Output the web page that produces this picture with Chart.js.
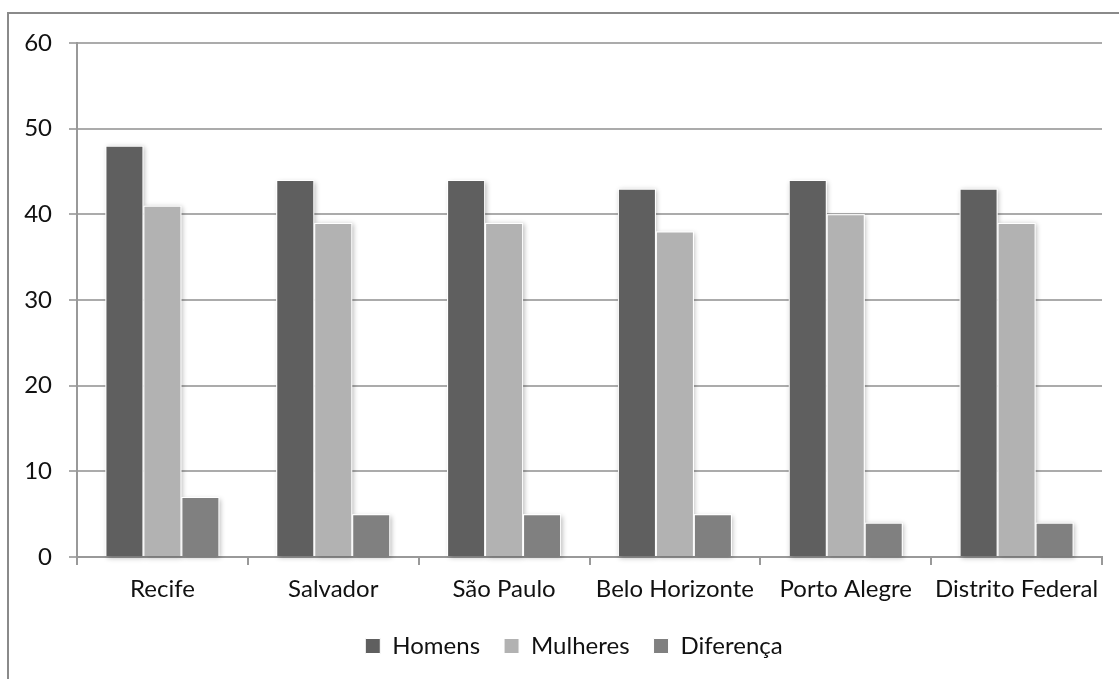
<!DOCTYPE html>
<html>
<head>
<meta charset="utf-8">
<script src="https://cdn.jsdelivr.net/npm/chart.js@4/dist/chart.umd.min.js"></script>
<style>
  html, body { margin: 0; padding: 0; background: #fff; }
  canvas { display: block; }
</style>
</head>
<body>
<canvas id="chart" width="1119" height="679"></canvas>
<script>
// Cities and values per group
const categories = ['Recife', 'Salvador', 'São Paulo', 'Belo Horizonte', 'Porto Alegre', 'Distrito Federal'];
const homens    = [48, 44, 44, 43, 44, 43];
const mulheres  = [41, 39, 39, 38, 40, 39];
const diferenca = [7, 5, 5, 5, 4, 4];
const yTicks    = [0, 10, 20, 30, 40, 50, 60];

const FONT = 'Lato, "Open Sans", sans-serif';

// Frame around the chart (left and top edges)
const framePlugin = {
  id: 'frame',
  beforeDraw(chart) {
    const ctx = chart.ctx;
    ctx.save();
    ctx.fillStyle = '#fff';
    ctx.fillRect(0, 0, chart.width, chart.height);
    ctx.strokeStyle = '#8a8a8a';
    ctx.lineWidth = 2;
    ctx.beginPath();
    ctx.moveTo(8, chart.height);
    ctx.lineTo(8, 13);
    ctx.lineTo(chart.width, 13);
    ctx.stroke();
    ctx.restore();
  }
};

// Soft drop shadow behind each bar
const barShadowPlugin = {
  id: 'barShadow',
  beforeDatasetsDraw(chart) {
    const ctx = chart.ctx;
    ctx.save();
    ctx.shadowColor = 'rgba(0,0,0,0.28)';
    ctx.shadowBlur = 5;
    ctx.shadowOffsetX = 1.5;
    ctx.shadowOffsetY = 1.5;
    ctx.fillStyle = '#fff';
    chart.data.datasets.forEach((ds, i) => {
      const meta = chart.getDatasetMeta(i);
      meta.data.forEach(bar => {
        const p = bar.getProps(['x', 'y', 'base', 'width'], true);
        ctx.fillRect(p.x - p.width / 2, p.y, p.width, p.base - p.y);
      });
    });
    ctx.restore();
  }
};

// Centre the legend row under the whole frame rather than the padded box
const legendShiftPlugin = {
  id: 'legendShift',
  afterLayout(chart) {
    const lg = chart.legend;
    if (lg) { lg.left += 23; lg.right += 23; }
  }
};

new Chart(document.getElementById('chart'), {
  type: 'bar',
  data: {
    labels: categories,
    datasets: [
      { label: 'Homens',    data: homens,    backgroundColor: '#5f5f5f' },
      { label: 'Mulheres',  data: mulheres,  backgroundColor: '#b2b2b2' },
      { label: 'Diferença', data: diferenca, backgroundColor: '#808080' }
    ]
  },
  options: {
    responsive: false,
    devicePixelRatio: 1,
    animation: false,
    layout: { padding: { top: 43, right: 17, bottom: 11, left: 0 } },
    datasets: {
      bar: {
        categoryPercentage: 0.667,
        barPercentage: 1.0,
        borderColor: '#ffffff',
        borderWidth: 1
      }
    },
    scales: {
      x: {
        afterFit(scale) { scale.height = 53; },
        grid: {
          offset: true,
          drawOnChartArea: false,
          drawTicks: true,
          tickLength: 8,
          color: '#999',
          lineWidth: 2
        },
        border: { color: '#999', width: 2 },
        ticks: {
          color: '#111',
          padding: 10,
          maxRotation: 0,
          autoSkip: false,
          font: { family: FONT, size: 24 }
        }
      },
      y: {
        min: 0,
        max: 60,
        afterFit(scale) { scale.width = 77; },
        afterBuildTicks(scale) { scale.ticks = yTicks.map(v => ({ value: v })); },
        grid: {
          color: '#ababab',
          lineWidth: 2,
          tickLength: 8
        },
        border: { color: '#999', width: 2 },
        ticks: {
          color: '#111',
          padding: 17,
          font: { family: FONT, size: 24 }
        }
      }
    },
    plugins: {
      legend: {
        position: 'bottom',
        labels: {
          boxWidth: 15,
          boxHeight: 15,
          padding: 24,
          color: '#111',
          font: { family: FONT, size: 24 }
        }
      },
      tooltip: { enabled: false }
    }
  },
  plugins: [framePlugin, barShadowPlugin, legendShiftPlugin]
});
</script>
</body>
</html>
